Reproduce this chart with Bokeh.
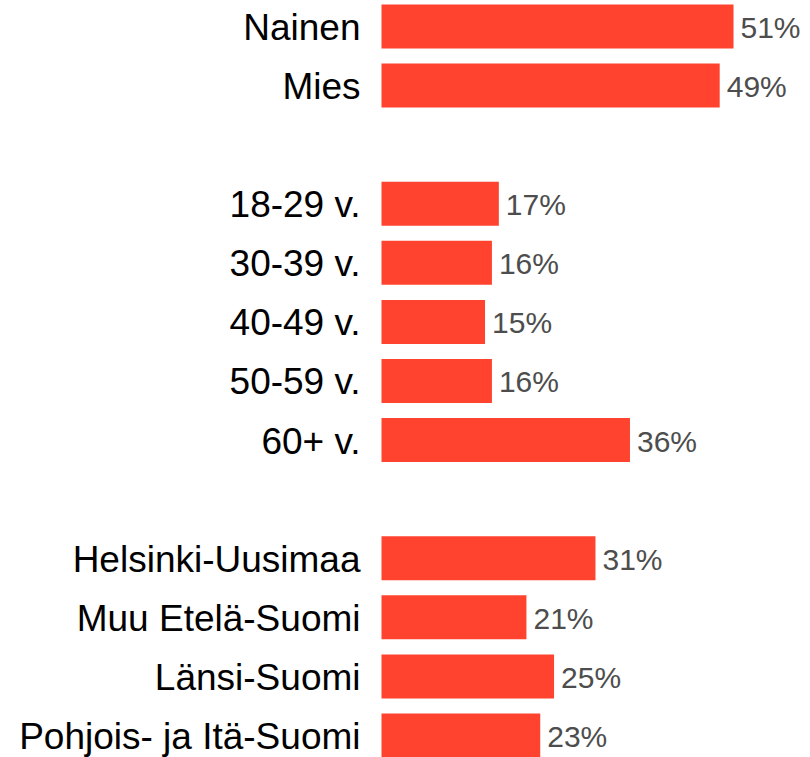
from bokeh.plotting import figure
from bokeh.models import ColumnDataSource, Range1d
from bokeh.core.properties import value
from bokeh.embed import file_html
from bokeh.resources import INLINE

gender_labels = ["Nainen", "Mies"]
gender_values = [51, 49]
age_labels = ["18-29 v.", "30-39 v.", "40-49 v.", "50-59 v.", "60+ v."]
age_values = [17, 16, 15, 16, 36]
region_labels = ["Helsinki-Uusimaa", "Muu Etelä-Suomi", "Länsi-Suomi", "Pohjois- ja Itä-Suomi"]
region_values = [31, 21, 25, 23]

groups = [(gender_labels, gender_values), (age_labels, age_values), (region_labels, region_values)]

labels, values, rows = [], [], []
r = 0
for gi, (labs, vals) in enumerate(groups):
    if gi > 0:
        r += 1
    for l, v in zip(labs, vals):
        labels.append(l)
        values.append(v)
        rows.append(r)
        r += 1

src = ColumnDataSource(dict(label=labels, val=values, row=rows,
                            txt=[f"{v}%" for v in values]))

W, H = 810, 757
bar_left_px = 381
px_per = 352 / 51
pitch = 59.08
first_center = 26

x0 = -bar_left_px / px_per
x1 = (W - bar_left_px) / px_per
ytop = -first_center / pitch
ybot = (H - first_center) / pitch

p = figure(width=W, height=H, output_backend="svg", toolbar_location=None,
           x_range=Range1d(x0, x1), y_range=Range1d(ybot, ytop),
           min_border=0, outline_line_color=None)
p.axis.visible = False
p.grid.visible = False
p.background_fill_color = "white"
p.border_fill_color = "white"

p.hbar(y="row", left=0, right="val", height=44 / pitch, source=src,
       fill_color="#FF432E", line_color=None)

p.text(x=0, y="row", text="label", source=src, x_offset=-21, y_offset=1,
       text_align="right", text_baseline="middle",
       text_font=value("Liberation Sans"), text_font_size="37px", text_color="#000000")

p.text(x="val", y="row", text="txt", source=src, x_offset=7, y_offset=1,
       text_align="left", text_baseline="middle",
       text_font=value("Liberation Sans"), text_font_size="30px", text_color="#4d4d4d")

open("out.html", "w").write(file_html(p, INLINE))
